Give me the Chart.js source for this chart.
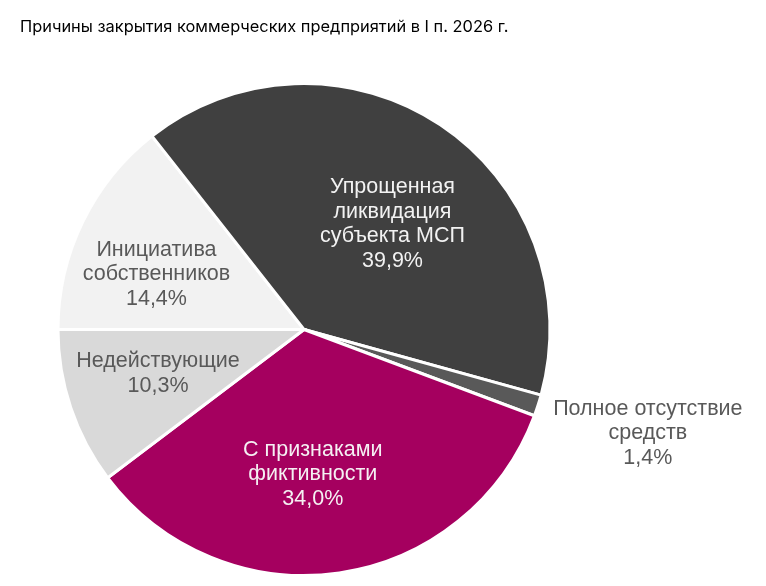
<!DOCTYPE html>
<html>
<head>
<meta charset="utf-8">
<script src="https://cdn.jsdelivr.net/npm/chart.js@4.4.1/dist/chart.umd.min.js"></script>
<style>
  html, body { margin: 0; padding: 0; background: #fff; }
  #wrap { width: 766px; height: 586px; }
</style>
</head>
<body>
<div id="wrap"><canvas id="myChart"></canvas></div>
<script>
// data
var categories = [
    ['Инициатива', 'собственников'],
    ['Упрощенная', 'ликвидация', 'субъекта МСП'],
    ['Полное отсутствие', 'средств'],
    ['С признаками', 'фиктивности'],
    ['Недействующие']
];
var shares = [14.4, 39.9, 1.4, 34.0, 10.3];
var valueLabels = ['14,4%', '39,9%', '1,4%', '34,0%', '10,3%'];

var sliceColors = ['#f2f2f2', '#404040', '#595959', '#a5005f', '#d9d9d9'];
var textColors = ['#595959', '#f2f2f2', '#595959', '#f5f0f3', '#595959'];
// label placement: angle shift (deg) from slice middle, radius fraction
var labelPlace = [[-5.5, 0.64], [6.3, 0.56], [-1.2, 1.46], [4.8, 0.59], [1.7, 0.62]];

var sliceLabels = {
    id: 'sliceLabels',
    afterDatasetsDraw: function(chart) {
        var ctx = chart.ctx;
        var arcs = chart.getDatasetMeta(0).data;
        ctx.save();
        ctx.font = '21.5px "Liberation Sans", Arial, sans-serif';
        ctx.textAlign = 'center';
        ctx.textBaseline = 'middle';
        arcs.forEach(function(arc, i) {
            var p = arc.getProps(['x', 'y', 'startAngle', 'endAngle', 'outerRadius'], true);
            var mid = (p.startAngle + p.endAngle) / 2 + labelPlace[i][0] * Math.PI / 180;
            var r = p.outerRadius * labelPlace[i][1];
            var cx = p.x + Math.cos(mid) * r;
            var cy = p.y + Math.sin(mid) * r;
            var lines = categories[i].concat([valueLabels[i]]);
            var lh = 24.5;
            var y0 = cy - (lines.length - 1) * lh / 2;
            ctx.fillStyle = textColors[i];
            lines.forEach(function(t, k) {
                ctx.fillText(t, cx, y0 + k * lh);
            });
        });
        ctx.restore();
    }
};

var ctx = document.getElementById('myChart').getContext('2d');
var myChart = new Chart(ctx, {
    type: 'pie',
    data: {
        labels: categories,
        datasets: [{
            data: shares,
            backgroundColor: sliceColors,
            borderColor: '#ffffff',
            borderWidth: 3
        }]
    },
    options: {
        responsive: true,
        maintainAspectRatio: false,
        animation: false,
        rotation: 270,
        layout: { padding: { left: 20, right: 178, top: 0, bottom: 9 } },
        plugins: {
            legend: { display: false },
            tooltip: { enabled: false },
            title: {
                display: true,
                text: 'Причины закрытия коммерческих предприятий в I п. 2026 г.',
                align: 'start',
                color: '#000000',
                font: { family: 'Inter, "Open Sans", sans-serif', size: 16.4, weight: 'normal', lineHeight: 1.2 },
                padding: { top: 17, bottom: 45.3 }
            }
        }
    },
    plugins: [sliceLabels]
});
</script>
</body>
</html>
